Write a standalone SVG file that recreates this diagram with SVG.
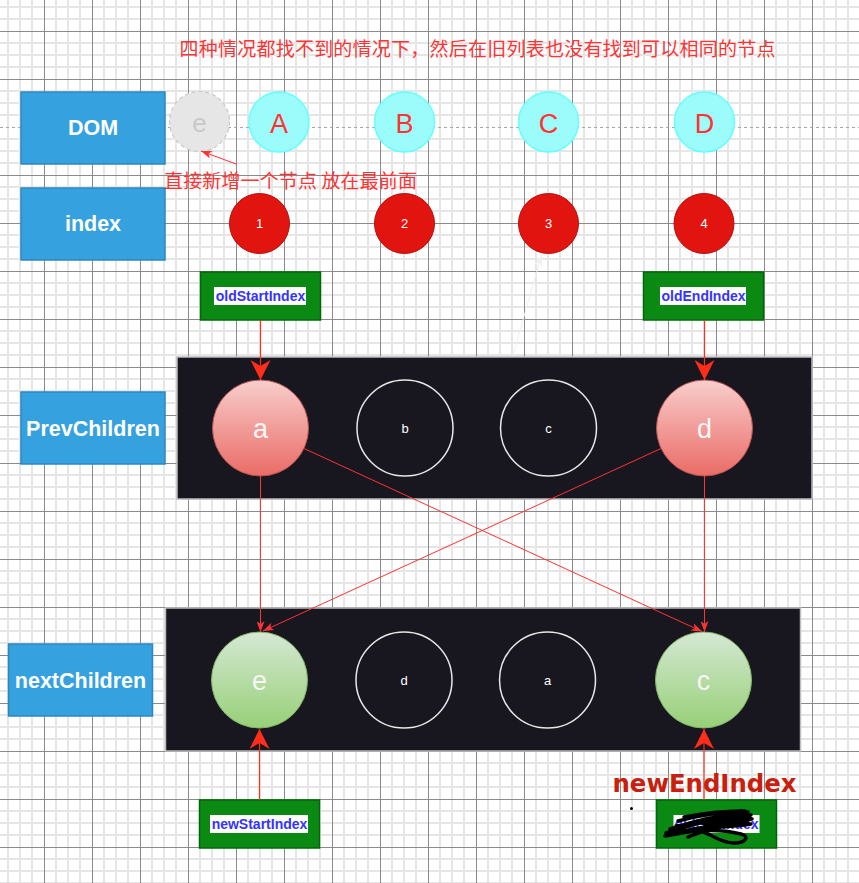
<svg xmlns="http://www.w3.org/2000/svg" width="859" height="883" viewBox="0 0 859 883">
  <style>
    .lbl { font-family: "Liberation Sans", Arial, sans-serif; }
    .cjk { font-family: "Noto Sans CJK SC", sans-serif; fill: #ff3333; }
    .side rect { fill: #35a1de; stroke: #2e86c1; stroke-width: 1.5; }
    .side text { fill: #ffffff; font-weight: bold; font-size: 21.5px; text-anchor: middle; }
    .dom circle { fill: #9cfcfb; stroke: #66ffff; stroke-width: 1.5; }
    .dom text { fill: #ff3333; font-size: 27px; text-anchor: middle; }
    .idx circle { fill: #e1140f; stroke: #b5100d; stroke-width: 1; }
    .idx text { fill: #ffffff; font-size: 13px; text-anchor: middle; }
    .ptr rect.box { fill: #0a8a12; stroke: #056609; stroke-width: 1.5; }
    .ptr rect.tag { fill: #ffffff; }
    .ptr text { fill: #3333ff; font-weight: bold; font-size: 14px; text-anchor: middle; }
    .panel { fill: #18161f; stroke: #bdbdbd; stroke-width: 1.5; }
    .ring circle { fill: none; stroke: #e8e8e8; stroke-width: 1.5; }
    .ring text { fill: #ffffff; font-size: 13px; text-anchor: middle; }
    .hot text { fill: #f6f6f6; font-size: 27px; text-anchor: middle; }
    .wire { fill: none; stroke: #ff3333; stroke-width: 1; }
    .wire-bold { fill: none; stroke: #ff2d1a; stroke-width: 1.2; }
  </style>
  <defs>
    <pattern id="grid" width="48" height="48" patternUnits="userSpaceOnUse" x="-4" y="-17">
      <path d="M12 0V48M24 0V48M36 0V48M0 12H48M0 24H48M0 36H48" stroke="#e6e6e6" stroke-width="2"/>
      <path d="M0.5 0V48M0 0.5H48" stroke="#8a8a8a" stroke-width="1"/>
    </pattern>
    <linearGradient id="redFill" x1="0" y1="0" x2="0" y2="1">
      <stop offset="0" stop-color="#f8cecc"/>
      <stop offset="1" stop-color="#ea6b66"/>
    </linearGradient>
    <linearGradient id="greenFill" x1="0" y1="0" x2="0" y2="1">
      <stop offset="0" stop-color="#d5e8d4"/>
      <stop offset="1" stop-color="#97d077"/>
    </linearGradient>
    <marker id="arrowBig" viewBox="0 0 20 20" markerWidth="20" markerHeight="20" refX="20" refY="10" orient="auto" markerUnits="userSpaceOnUse">
      <path d="M0,0 L20,10 L0,20 L6,10 Z" fill="#ff2d1a"/>
    </marker>
    <marker id="arrowSmall" viewBox="0 0 11 8" markerWidth="11" markerHeight="8" refX="11" refY="4" orient="auto" markerUnits="userSpaceOnUse">
      <path d="M0,0 L11,4 L0,8 L3,4 Z" fill="#ff3333"/>
    </marker>
    <marker id="arrowPale" viewBox="0 0 11 8" markerWidth="11" markerHeight="8" refX="11" refY="4" orient="auto" markerUnits="userSpaceOnUse">
      <path d="M0,0 L11,4 L0,8 L3,4 Z" fill="#f0f0f0"/>
    </marker>
  </defs>

  <!-- background grid -->
  <rect width="859" height="883" fill="#ffffff"/>
  <rect width="859" height="883" fill="url(#grid)"/>
  <line x1="0" y1="127.5" x2="859" y2="127.5" stroke="#ffffff" stroke-width="1"/>
  <line x1="0" y1="127.5" x2="859" y2="127.5" stroke="#a8a8a8" stroke-width="1" stroke-dasharray="3 3"/>

  <!-- captions -->
  <text id="title" class="cjk" x="179.5" y="56" font-size="19" textLength="596" lengthAdjust="spacing">四种情况都找不到的情况下，然后在旧列表也没有找到可以相同的节点</text>

  <!-- row labels -->
  <g id="label-dom" class="side lbl"><rect x="21" y="92" width="144" height="72"/><text x="93" y="135">DOM</text></g>
  <g id="label-index" class="side lbl"><rect x="21" y="188" width="144" height="72"/><text x="93" y="231">index</text></g>
  <g id="label-prev" class="side lbl"><rect x="21" y="392" width="144" height="72"/><text x="93" y="435.5">PrevChildren</text></g>
  <g id="label-next" class="side lbl"><rect x="8.5" y="644" width="144" height="72"/><text x="80.5" y="687.5">nextChildren</text></g>

  <!-- real DOM nodes -->
  <g id="dom-e" class="lbl">
    <circle cx="199.5" cy="121.5" r="30" fill="#e6e6e6" stroke="#c8c8c8" stroke-width="1.2" stroke-dasharray="4 3"/>
    <text x="199.5" y="131.5" font-size="26" fill="#c9c9c9" text-anchor="middle">e</text>
  </g>
  <g id="dom-A" class="dom lbl"><circle cx="279" cy="122" r="30"/><text x="279" y="132.5">A</text></g>
  <g id="dom-B" class="dom lbl"><circle cx="404.5" cy="122" r="30"/><text x="404.5" y="132.5">B</text></g>
  <g id="dom-C" class="dom lbl"><circle cx="548.5" cy="122" r="30"/><text x="548.5" y="132.5">C</text></g>
  <g id="dom-D" class="dom lbl"><circle cx="704.5" cy="122" r="30"/><text x="704.5" y="132.5">D</text></g>

  <text id="note" class="cjk" x="164" y="187.5" font-size="19" textLength="253" lengthAdjust="spacing">直接新增一个节点 放在最前面</text>

  <!-- index markers -->
  <g id="idx-1" class="idx lbl"><circle cx="259.5" cy="223.5" r="30"/><text x="259.5" y="228">1</text></g>
  <g id="idx-2" class="idx lbl"><circle cx="404.5" cy="223.5" r="30"/><text x="404.5" y="228">2</text></g>
  <g id="idx-3" class="idx lbl"><circle cx="548.5" cy="223.5" r="30"/><text x="548.5" y="228">3</text></g>
  <g id="idx-4" class="idx lbl"><circle cx="704" cy="223.5" r="30"/><text x="704" y="228">4</text></g>

  <!-- pointers -->
  <g id="ptr-old-start" class="ptr lbl">
    <rect class="box" x="200.5" y="272" width="120" height="48"/>
    <rect class="tag" x="214" y="287" width="92" height="18"/>
    <text x="260.5" y="301">oldStartIndex</text>
  </g>
  <g id="ptr-old-end" class="ptr lbl">
    <rect class="box" x="643.5" y="272" width="120" height="48"/>
    <rect class="tag" x="660" y="287" width="86" height="18"/>
    <text x="703.5" y="301">oldEndIndex</text>
  </g>

  <!-- previous children -->
  <rect id="prev-panel" class="panel" x="177" y="357" width="635" height="142"/>
  <g id="prev-a" class="hot lbl"><circle cx="260.5" cy="428" r="48" fill="url(#redFill)" stroke="#b85450" stroke-width="1"/><text x="260.5" y="438">a</text></g>
  <g id="prev-b" class="ring lbl"><circle cx="405" cy="428" r="48"/><text x="405" y="432.5">b</text></g>
  <g id="prev-c" class="ring lbl"><circle cx="548.5" cy="428" r="48"/><text x="548.5" y="432.5">c</text></g>
  <g id="prev-d" class="hot lbl"><circle cx="704.5" cy="428" r="48" fill="url(#redFill)" stroke="#b85450" stroke-width="1"/><text x="704.5" y="438">d</text></g>

  <!-- next children -->
  <rect id="next-panel" class="panel" x="165.5" y="608" width="635" height="143"/>
  <g id="next-e" class="hot lbl"><circle cx="259.5" cy="680" r="48" fill="url(#greenFill)" stroke="#82b366" stroke-width="1"/><text x="259.5" y="690">e</text></g>
  <g id="next-d" class="ring lbl"><circle cx="404" cy="680" r="48"/><text x="404" y="684.5">d</text></g>
  <g id="next-a" class="ring lbl"><circle cx="547.5" cy="680" r="48"/><text x="547.5" y="684.5">a</text></g>
  <g id="next-c" class="hot lbl"><circle cx="703.5" cy="680" r="48" fill="url(#greenFill)" stroke="#82b366" stroke-width="1"/><text x="703.5" y="690">c</text></g>

  <g id="ptr-new-start" class="ptr lbl">
    <rect class="box" x="199.5" y="800" width="120" height="48"/>
    <rect class="tag" x="210" y="815" width="98" height="18"/>
    <text x="259.5" y="829">newStartIndex</text>
  </g>
  <g id="ptr-new-end" class="ptr lbl">
    <rect class="box" x="656.5" y="800" width="120" height="48"/>
    <rect class="tag" x="673.5" y="815" width="86" height="18"/>
    <text x="716.5" y="829">oldEndIndex</text>
    <!-- pen scribble over the old caption -->
    <path d="M666,833 C690,825 720,817 748,812 M670,829 C694,821 718,815 746,813 M678,821 C700,815 722,812 745,811 M684,817 C704,813 724,811 742,811 M665,836 C690,831 720,828 748,821 M670,834 C695,828 722,824 742,822 M688,837 C705,831 722,824 740,819 M676,826 C700,823 725,820 750,818 M700,829 C720,827 738,826 751,824 M704,824 C724,822 740,821 752,819 M708,819 C726,817 740,816 751,815 M700,831 C714,835 720,843 734,843 C746,843 750,836 741,834 C728,831 714,830 700,831" fill="none" stroke="#000000" stroke-width="3.5" stroke-linecap="round" stroke-linejoin="round"/>
  </g>

  <!-- connectors -->
  <g id="connectors">
    <line class="wire" x1="236" y1="164" x2="201" y2="151" marker-end="url(#arrowSmall)"/>
    <line x1="513.5" y1="353" x2="541.5" y2="255" stroke="#eeeeee" stroke-width="1" marker-end="url(#arrowPale)"/>
    <line class="wire-bold" x1="260.5" y1="320" x2="260.5" y2="380" marker-end="url(#arrowBig)"/>
    <line class="wire-bold" x1="704.5" y1="320" x2="704.5" y2="380" marker-end="url(#arrowBig)"/>
    <line class="wire" x1="260.5" y1="476" x2="260.5" y2="632" marker-end="url(#arrowSmall)"/>
    <line class="wire" x1="304" y1="448.5" x2="702" y2="631.5" marker-end="url(#arrowSmall)"/>
    <line class="wire" x1="661" y1="448.5" x2="263" y2="631" marker-end="url(#arrowSmall)"/>
    <line class="wire" x1="704.5" y1="476" x2="704.5" y2="632" marker-end="url(#arrowSmall)"/>
    <line class="wire-bold" x1="259.5" y1="800" x2="259.5" y2="729" marker-end="url(#arrowBig)"/>
    <line class="wire-bold" x1="704" y1="800" x2="704" y2="729" marker-end="url(#arrowBig)"/>
  </g>

  <text id="new-end-caption" x="612.5" y="791.5" font-family="'DejaVu Sans', Verdana, sans-serif" font-weight="bold" font-size="24" fill="#c8200e" textLength="184" lengthAdjust="spacingAndGlyphs">newEndIndex</text>
  <circle cx="631.5" cy="808.5" r="1.5" fill="#000000"/>
</svg>
